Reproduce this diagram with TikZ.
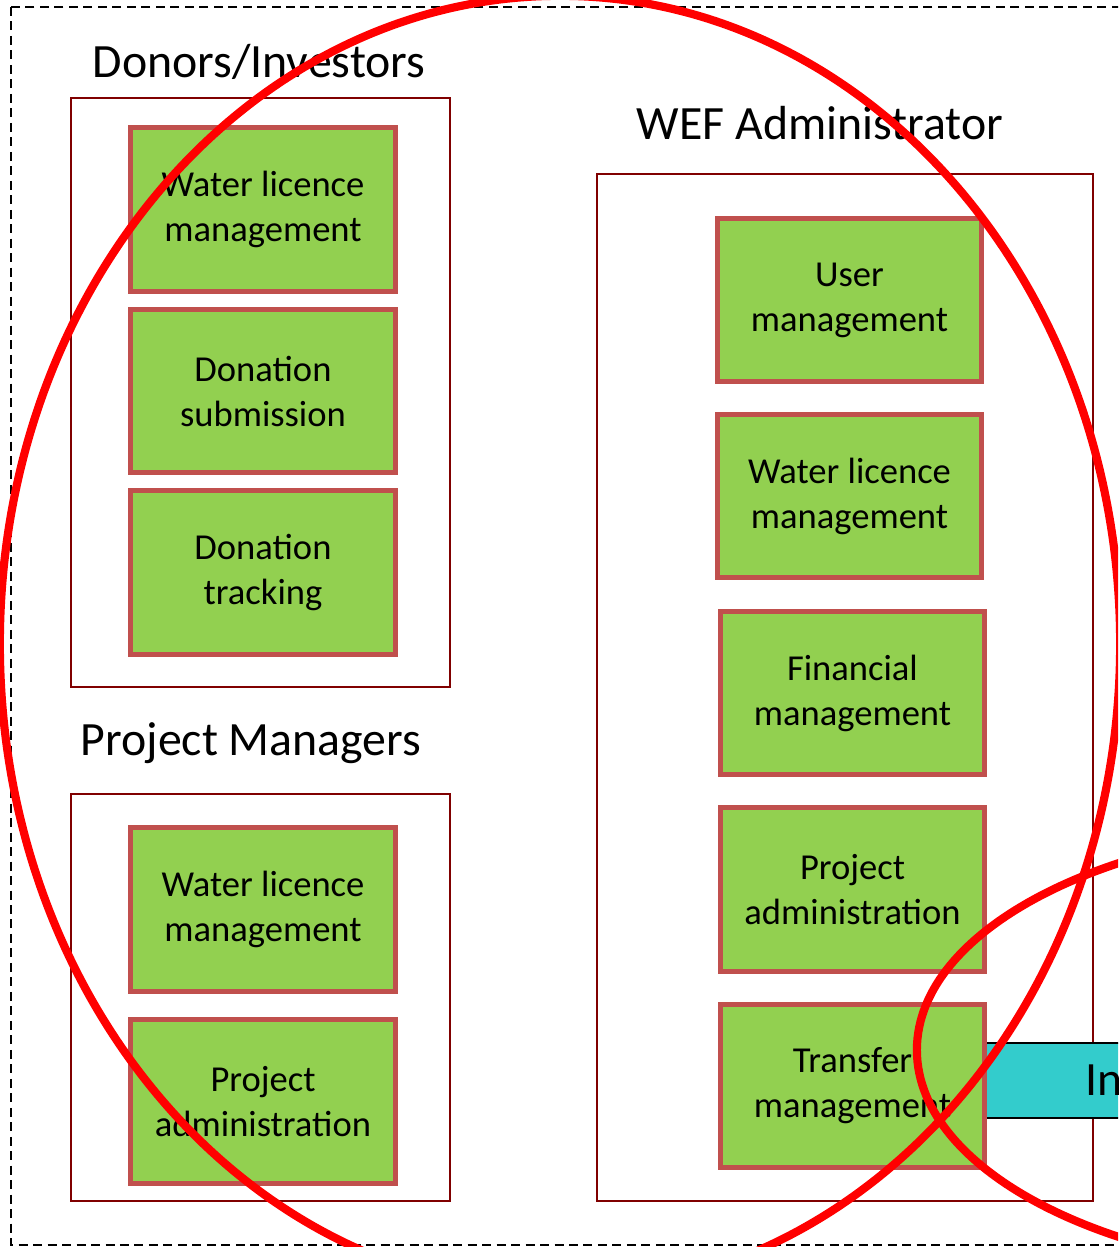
\documentclass[tikz,border=0pt]{standalone}
\usepackage{fontspec}
\setmainfont{Carlito}
\usetikzlibrary{positioning}
\definecolor{FrameRed}{HTML}{800000}
\definecolor{FuncGreen}{HTML}{92D050}
\definecolor{FuncEdge}{HTML}{C0504D}
\definecolor{IfaceCyan}{HTML}{33CCCC}
\tikzset{
  rolebox/.style={draw=FrameRed, line width=1.4pt, fill=white, inner sep=0pt},
  funcbox/.style={draw=FuncEdge, fill=FuncGreen, line width=3.6pt, minimum width=6.6cm, minimum height=4.08cm,
    align=center, font=\fontsize{26}{32}\selectfont},
  roletitle/.style={font=\fontsize{34}{41}\selectfont},
  cutmark/.style={draw=red, line width=5.8pt}
}
\begin{document}
\begin{tikzpicture}[x=0.025cm, y=-0.025cm]
\useasboundingbox (0,0) rectangle (1118,1247);
\clip (0,0) rectangle (1118,1247);
\draw[line width=1.2pt, dash pattern=on 6.4pt off 3.9pt] (11,7) rectangle (1160,1245);
% role frames
\node[rolebox, minimum width=9.475cm, minimum height=14.725cm] (donors) at (260.5,392.5) {};
\node[rolebox, minimum width=9.475cm, minimum height=10.175cm] (pm) at (260.5,997.5) {};
\node[rolebox, minimum width=12.4cm, minimum height=25.675cm] (wef) at (845,687.5) {};
\node[roletitle] (donorsT) at (259,62) {Donors/Investors};
\node[roletitle] (pmT) at (251,743) {Project Managers};
\node[roletitle] (wefT) at (820,123) {WEF Administrator};
% interface bar
\node[draw=black, line width=1.2pt, fill=IfaceCyan, anchor=west, minimum height=1.875cm, inner xsep=2.5cm,
  text width=2cm, align=left, font=\fontsize{34}{41}\selectfont] (iface) at (985,1080.5) {In};
% functions
\node[funcbox] (dWater) at (263,209.5) {Water licence\\management};
\node[funcbox] (dSubmit) at (263,391) {Donation\\submission};
\node[funcbox] (dTrack) at (263,572.5) {Donation\\tracking};
\node[funcbox] (pWater) at (263,909.5) {Water licence\\management};
\node[funcbox] (pProject) at (263,1101.5) {Project\\administration};
\node[funcbox] (wUser) at (849.5,300) {User\\management};
\node[funcbox] (wWater) at (849.5,496) {Water licence\\management};
\node[funcbox] (wFinance) at (852.5,693) {Financial\\management};
\node[funcbox] (wProject) at (852.5,889.5) {Project\\administration};
\node[funcbox] (wTransfer) at (852.5,1086) {Transfer\\management};
% red marks
\draw[cutmark] (560,644) ellipse [x radius=14cm, y radius=16.2cm];
\draw[cutmark] (1367,1050) ellipse [x radius=11.25cm, y radius=5.6cm];
\end{tikzpicture}
\end{document}
